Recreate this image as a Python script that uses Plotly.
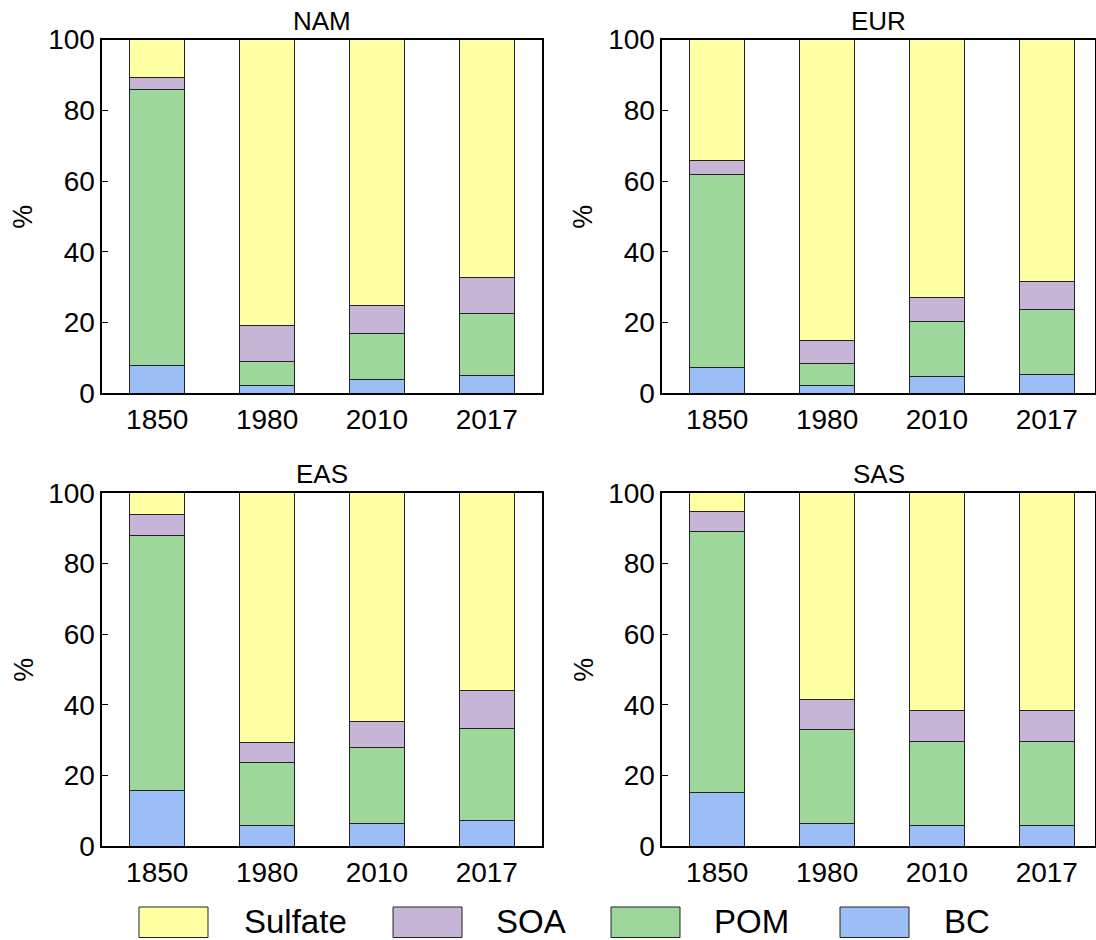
import plotly.graph_objects as go

W, H = 1096, 940

years = ["1850", "1980", "2010", "2017"]
regions = ["NAM", "EUR", "EAS", "SAS"]
species = ["Sulfate", "SOA", "POM", "BC"]

# Stacked percentages (bottom to top: BC, POM, SOA, Sulfate)
bc = {
    "NAM": [7.9, 2.3, 4.0, 4.9],
    "EUR": [7.3, 2.3, 4.8, 5.3],
    "EAS": [15.7, 5.9, 6.5, 7.4],
    "SAS": [15.1, 6.5, 5.8, 5.8],
}
pom = {
    "NAM": [78.0, 6.6, 12.8, 17.7],
    "EUR": [54.6, 6.2, 15.5, 18.4],
    "EAS": [72.2, 17.8, 21.5, 25.8],
    "SAS": [73.9, 26.6, 23.8, 23.9],
}
soa = {
    "NAM": [3.4, 10.4, 7.9, 10.2],
    "EUR": [3.9, 6.3, 6.8, 7.9],
    "EAS": [6.0, 5.6, 7.2, 10.8],
    "SAS": [5.6, 8.3, 8.7, 8.6],
}
sulfate = {
    "NAM": [10.7, 80.7, 75.3, 67.2],
    "EUR": [34.2, 85.2, 72.9, 68.4],
    "EAS": [6.1, 70.7, 64.8, 56.0],
    "SAS": [5.4, 58.6, 61.7, 61.7],
}

colors = {"Sulfate": "#FFFFA3", "SOA": "#C6B5D7", "POM": "#9DD79C", "BC": "#9DBDF6"}
data_by = {"BC": bc, "POM": pom, "SOA": soa, "Sulfate": sulfate}

FONT = "Liberation Sans, Arial, sans-serif"

# plot areas in pixels: (left, right, top, bottom)
boxes = {
    "NAM": (102.3, 541.7, 39.5, 393.3),
    "EUR": (662.3, 1095.0, 39.5, 393.3),
    "EAS": (102.3, 541.7, 492.7, 846.3),
    "SAS": (662.3, 1095.0, 492.7, 846.3),
}

fig = go.Figure()
layout = dict(
    width=W, height=H, margin=dict(l=0, r=0, t=0, b=0),
    paper_bgcolor="white", plot_bgcolor="white",
    barmode="stack", bargap=0.5, showlegend=False,
    font=dict(family=FONT, color="black"),
)

annotations = []
shapes = []
for i, reg in enumerate(regions):
    n = "" if i == 0 else str(i + 1)
    xa, ya = "x" + n, "y" + n
    l, r, t, b = boxes[reg]
    ncat = (r - l) / 109.85
    for sp in ["BC", "POM", "SOA", "Sulfate"]:
        fig.add_trace(go.Bar(
            x=years, y=data_by[sp][reg], name=sp, xaxis=xa, yaxis=ya,
            marker=dict(color=colors[sp], line=dict(color="#222222", width=1)),
            width=0.5, showlegend=False, hoverinfo="x+y+name",
        ))
    layout["xaxis" + n] = dict(
        domain=[l / W, r / W], anchor=ya, range=[-0.5, -0.5 + ncat],
        type="category", showline=True, mirror=True, linecolor="black", linewidth=1.5,
        ticks="", tickfont=dict(size=28, family=FONT, color="black"),
        showgrid=False, zeroline=False, automargin=False, fixedrange=True,
    )
    layout["yaxis" + n] = dict(
        domain=[1 - b / H, 1 - t / H], anchor=xa, range=[0, 100],
        tickvals=[0, 20, 40, 60, 80, 100],
        showline=True, mirror=True, linecolor="black", linewidth=1.5,
        ticks="inside", ticklen=6, tickwidth=1.2, tickcolor="black",
        tickfont=dict(size=28, family=FONT, color="black"),
        showgrid=False, zeroline=False, automargin=False, fixedrange=True,
    )
    annotations.append(dict(
        text=reg, x=(l + r) / 2 / W, y=1 - t / H, xref="paper", yref="paper",
        xanchor="center", yanchor="bottom", showarrow=False, yshift=2,
        font=dict(size=26, family=FONT, color="black"),
    ))
    annotations.append(dict(
        text="%", x=(l - 79) / W, y=1 - (t + b) / 2 / H, xref="paper", yref="paper",
        xanchor="center", yanchor="middle", showarrow=False, textangle=-90,
        font=dict(size=27, family=FONT, color="black"),
    ))

# legend drawn as boxes + labels
legend_box_x = [139, 393, 611, 840]
legend_text_x = [242, 494, 712, 942]
for sp, bx, tx in zip(species, legend_box_x, legend_text_x):
    shapes.append(dict(
        type="rect", xref="paper", yref="paper",
        x0=bx / W, x1=(bx + 69) / W, y0=1 - 937.5 / H, y1=1 - 907 / H,
        fillcolor=colors[sp], line=dict(color="#222222", width=1),
    ))
    annotations.append(dict(
        text=sp, x=tx / W, y=1 - 921.5 / H, xref="paper", yref="paper",
        xanchor="left", yanchor="middle", showarrow=False,
        font=dict(size=33, family=FONT, color="black"),
    ))

layout["annotations"] = annotations
layout["shapes"] = shapes
fig.update_layout(**layout)
fig.write_html(
    "out.html",
    config={"displayModeBar": False},
    post_script="document.body.style.margin='0';document.body.style.overflow='hidden';",
)
